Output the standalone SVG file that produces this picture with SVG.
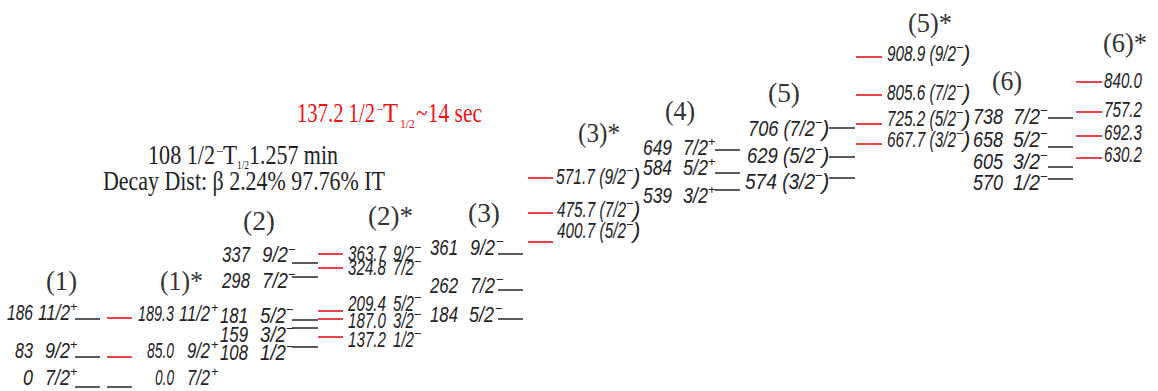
<svg xmlns="http://www.w3.org/2000/svg" width="1158" height="391" viewBox="0 0 1158 391">
<style>
.lv{font-family:"Liberation Sans Narrow","Liberation Sans",Arial,sans-serif;font-style:italic;font-size:22px;fill:#222}
.sp{font-family:"Liberation Sans",Arial,sans-serif;font-style:normal;font-size:13px;fill:#222}
.hd{font-family:"Liberation Serif","Times New Roman",serif;font-size:27px;fill:#333}
.tt{font-family:"Liberation Serif","Times New Roman",serif;font-size:28px;fill:#222}
.ts{font-family:"Liberation Serif","Times New Roman",serif;font-size:13px}
.red{fill:#f01010}
.bl{stroke:#333;stroke-width:1.6}
.rd{stroke:#e8141c;stroke-width:1.6}
.e{text-anchor:end}
</style>
<rect width="1158" height="391" fill="#fff"/>

<g id="titles">
<text class="tt red" y="122"><tspan x="297" textLength="78" lengthAdjust="spacingAndGlyphs">137.2 1/2</tspan><tspan class="ts" x="376" dy="-8">−</tspan><tspan x="383" dy="8" textLength="15" lengthAdjust="spacingAndGlyphs">T</tspan><tspan class="ts" x="400" dy="6" textLength="15" lengthAdjust="spacingAndGlyphs">1/2</tspan><tspan x="416" dy="-6" textLength="66" lengthAdjust="spacingAndGlyphs">~14 sec</tspan></text>
<text class="tt" y="164"><tspan x="148" textLength="67" lengthAdjust="spacingAndGlyphs">108 1/2</tspan><tspan class="ts" x="216" dy="-8">−</tspan><tspan x="223" dy="8" textLength="14" lengthAdjust="spacingAndGlyphs">T</tspan><tspan class="ts" x="237" dy="5" textLength="12" lengthAdjust="spacingAndGlyphs">1/2</tspan><tspan x="249" dy="-5" textLength="89" lengthAdjust="spacingAndGlyphs">1.257 min</tspan></text>
<text class="tt" x="103" y="190" textLength="282" lengthAdjust="spacingAndGlyphs">Decay Dist: β 2.24% 97.76% IT</text>
</g>

<g id="col1">
<text class="hd" x="46" y="290" textLength="31" lengthAdjust="spacingAndGlyphs">(1)</text>
<line class="bl" x1="75" y1="319" x2="100" y2="319"/>
<line class="bl" x1="75" y1="357" x2="100" y2="357"/>
<line class="bl" x1="75" y1="387" x2="100" y2="387"/>
<text class="lv" y="320"><tspan x="7" textLength="26" lengthAdjust="spacingAndGlyphs">186</tspan><tspan x="38" textLength="32" lengthAdjust="spacingAndGlyphs">11/2</tspan><tspan class="sp" x="70" dy="-9">+</tspan></text>
<text class="lv" y="358"><tspan x="15" textLength="18" lengthAdjust="spacingAndGlyphs">83</tspan><tspan x="45" textLength="25" lengthAdjust="spacingAndGlyphs">9/2</tspan><tspan class="sp" x="70" dy="-9">+</tspan></text>
<text class="lv" y="385"><tspan x="23" textLength="10" lengthAdjust="spacingAndGlyphs">0</tspan><tspan x="45" textLength="25" lengthAdjust="spacingAndGlyphs">7/2</tspan><tspan class="sp" x="70" dy="-9">+</tspan></text>
</g>

<g id="col1s">
<text class="hd" x="160" y="290" textLength="43" lengthAdjust="spacingAndGlyphs">(1)*</text>
<line class="rd" x1="107" y1="318" x2="132" y2="318"/>
<line class="rd" x1="107" y1="357" x2="132" y2="357"/>
<line class="bl" x1="107" y1="387" x2="132" y2="387"/>
<text class="lv" y="321"><tspan x="138" textLength="36" lengthAdjust="spacingAndGlyphs">189.3</tspan><tspan x="179" textLength="31" lengthAdjust="spacingAndGlyphs">11/2</tspan><tspan class="sp" x="211" dy="-9">+</tspan></text>
<text class="lv" y="358"><tspan x="147" textLength="27" lengthAdjust="spacingAndGlyphs">85.0</tspan><tspan x="187" textLength="23" lengthAdjust="spacingAndGlyphs">9/2</tspan><tspan class="sp" x="211" dy="-9">+</tspan></text>
<text class="lv" y="385"><tspan x="155" textLength="19" lengthAdjust="spacingAndGlyphs">0.0</tspan><tspan x="187" textLength="23" lengthAdjust="spacingAndGlyphs">7/2</tspan><tspan class="sp" x="211" dy="-9">+</tspan></text>
</g>

<g id="col2">
<text class="hd" x="243" y="230" textLength="32" lengthAdjust="spacingAndGlyphs">(2)</text>
<line class="bl" x1="292" y1="263" x2="318" y2="263"/>
<line class="bl" x1="292" y1="277" x2="318" y2="277"/>
<line class="bl" x1="292" y1="320" x2="318" y2="320"/>
<line class="bl" x1="292" y1="328" x2="318" y2="328"/>
<line class="bl" x1="292" y1="347" x2="318" y2="347"/>
<text class="lv" y="262"><tspan x="222" textLength="28" lengthAdjust="spacingAndGlyphs">337</tspan><tspan x="262" textLength="26" lengthAdjust="spacingAndGlyphs">9/2</tspan><tspan class="sp" x="288" dy="-8">−</tspan></text>
<text class="lv" y="288"><tspan x="222" textLength="28" lengthAdjust="spacingAndGlyphs">298</tspan><tspan x="262" textLength="26" lengthAdjust="spacingAndGlyphs">7/2</tspan><tspan class="sp" x="288" dy="-9">−</tspan></text>
<text class="lv" y="323"><tspan x="220" textLength="28" lengthAdjust="spacingAndGlyphs">181</tspan><tspan x="260" textLength="26" lengthAdjust="spacingAndGlyphs">5/2</tspan><tspan class="sp" x="286" dy="-9">−</tspan></text>
<text class="lv" y="342"><tspan x="220" textLength="28" lengthAdjust="spacingAndGlyphs">159</tspan><tspan x="260" textLength="26" lengthAdjust="spacingAndGlyphs">3/2</tspan><tspan class="sp" x="286" dy="-9">−</tspan></text>
<text class="lv" y="360"><tspan x="220" textLength="28" lengthAdjust="spacingAndGlyphs">108</tspan><tspan x="260" textLength="26" lengthAdjust="spacingAndGlyphs">1/2</tspan><tspan class="sp" x="286" dy="-9">−</tspan></text>
</g>

<g id="col2s">
<text class="hd" x="368" y="225" textLength="45" lengthAdjust="spacingAndGlyphs">(2)*</text>
<line class="rd" x1="318" y1="254" x2="343" y2="254"/>
<line class="rd" x1="318" y1="268" x2="343" y2="268"/>
<line class="rd" x1="318" y1="311" x2="343" y2="311"/>
<line class="rd" x1="318" y1="319" x2="343" y2="319"/>
<line class="rd" x1="318" y1="337" x2="343" y2="337"/>
<text class="lv" y="261"><tspan x="348" textLength="38" lengthAdjust="spacingAndGlyphs">363.7</tspan><tspan x="393" textLength="21" lengthAdjust="spacingAndGlyphs">9/2</tspan><tspan class="sp" x="414" dy="-9">−</tspan></text>
<text class="lv" y="275"><tspan x="348" textLength="38" lengthAdjust="spacingAndGlyphs">324.8</tspan><tspan x="393" textLength="21" lengthAdjust="spacingAndGlyphs">7/2</tspan><tspan class="sp" x="414" dy="-9">−</tspan></text>
<text class="lv" y="311"><tspan x="348" textLength="38" lengthAdjust="spacingAndGlyphs">209.4</tspan><tspan x="393" textLength="21" lengthAdjust="spacingAndGlyphs">5/2</tspan><tspan class="sp" x="414" dy="-9">−</tspan></text>
<text class="lv" y="328"><tspan x="348" textLength="38" lengthAdjust="spacingAndGlyphs">187.0</tspan><tspan x="393" textLength="21" lengthAdjust="spacingAndGlyphs">3/2</tspan><tspan class="sp" x="414" dy="-9">−</tspan></text>
<text class="lv" y="347"><tspan x="348" textLength="38" lengthAdjust="spacingAndGlyphs">137.2</tspan><tspan x="393" textLength="21" lengthAdjust="spacingAndGlyphs">1/2</tspan><tspan class="sp" x="414" dy="-9">−</tspan></text>
</g>

<g id="col3">
<text class="hd" x="468" y="222" textLength="32" lengthAdjust="spacingAndGlyphs">(3)</text>
<line class="bl" x1="498" y1="254" x2="523" y2="254"/>
<line class="bl" x1="498" y1="290" x2="523" y2="290"/>
<line class="bl" x1="498" y1="319" x2="523" y2="319"/>
<text class="lv" y="255"><tspan x="430" textLength="28" lengthAdjust="spacingAndGlyphs">361</tspan><tspan x="470" textLength="25" lengthAdjust="spacingAndGlyphs">9/2</tspan><tspan class="sp" x="496" dy="-9">−</tspan></text>
<text class="lv" y="293"><tspan x="430" textLength="28" lengthAdjust="spacingAndGlyphs">262</tspan><tspan x="470" textLength="25" lengthAdjust="spacingAndGlyphs">7/2</tspan><tspan class="sp" x="496" dy="-9">−</tspan></text>
<text class="lv" y="322"><tspan x="430" textLength="28" lengthAdjust="spacingAndGlyphs">184</tspan><tspan x="469" textLength="25" lengthAdjust="spacingAndGlyphs">5/2</tspan><tspan class="sp" x="495" dy="-9">−</tspan></text>
</g>

<g id="col3s">
<text class="hd" x="578" y="142" textLength="42" lengthAdjust="spacingAndGlyphs">(3)*</text>
<line class="rd" x1="528" y1="178" x2="553" y2="178"/>
<line class="rd" x1="528" y1="213" x2="553" y2="213"/>
<line class="rd" x1="528" y1="242" x2="553" y2="242"/>
<text class="lv" y="184"><tspan x="556" textLength="70" lengthAdjust="spacingAndGlyphs">571.7 (9/2</tspan><tspan class="sp" x="626" dy="-9">−</tspan><tspan x="633" dy="9">)</tspan></text>
<text class="lv" y="217"><tspan x="557" textLength="69" lengthAdjust="spacingAndGlyphs">475.7 (7/2</tspan><tspan class="sp" x="626" dy="-9">−</tspan><tspan x="633" dy="9">)</tspan></text>
<text class="lv" y="238"><tspan x="557" textLength="69" lengthAdjust="spacingAndGlyphs">400.7 (5/2</tspan><tspan class="sp" x="626" dy="-9">−</tspan><tspan x="633" dy="9">)</tspan></text>
</g>

<g id="col4">
<text class="hd" x="665" y="120" textLength="30" lengthAdjust="spacingAndGlyphs">(4)</text>
<line class="bl" x1="715" y1="150" x2="740" y2="150"/>
<line class="bl" x1="715" y1="173" x2="740" y2="173"/>
<line class="bl" x1="715" y1="190" x2="740" y2="190"/>
<text class="lv" y="155"><tspan x="643" textLength="29" lengthAdjust="spacingAndGlyphs">649</tspan><tspan x="683" textLength="25" lengthAdjust="spacingAndGlyphs">7/2</tspan><tspan class="sp" x="708" dy="-9">+</tspan></text>
<text class="lv" y="175"><tspan x="643" textLength="29" lengthAdjust="spacingAndGlyphs">584</tspan><tspan x="683" textLength="25" lengthAdjust="spacingAndGlyphs">5/2</tspan><tspan class="sp" x="708" dy="-9">+</tspan></text>
<text class="lv" y="203"><tspan x="643" textLength="29" lengthAdjust="spacingAndGlyphs">539</tspan><tspan x="683" textLength="25" lengthAdjust="spacingAndGlyphs">3/2</tspan><tspan class="sp" x="708" dy="-9">+</tspan></text>
</g>

<g id="col5">
<text class="hd" x="768" y="102" textLength="32" lengthAdjust="spacingAndGlyphs">(5)</text>
<line class="bl" x1="829" y1="128" x2="855" y2="128"/>
<line class="bl" x1="829" y1="157" x2="855" y2="157"/>
<line class="bl" x1="829" y1="178" x2="855" y2="178"/>
<text class="lv" y="136"><tspan x="748" textLength="67" lengthAdjust="spacingAndGlyphs">706 (7/2</tspan><tspan class="sp" x="815" dy="-9">−</tspan><tspan x="822" dy="9">)</tspan></text>
<text class="lv" y="163"><tspan x="747" textLength="68" lengthAdjust="spacingAndGlyphs">629 (5/2</tspan><tspan class="sp" x="815" dy="-9">−</tspan><tspan x="822" dy="9">)</tspan></text>
<text class="lv" y="189"><tspan x="745" textLength="70" lengthAdjust="spacingAndGlyphs">574 (3/2</tspan><tspan class="sp" x="815" dy="-9">−</tspan><tspan x="822" dy="9">)</tspan></text>
</g>

<g id="col5s">
<text class="hd" x="908" y="32" textLength="44" lengthAdjust="spacingAndGlyphs">(5)*</text>
<line class="rd" x1="856" y1="57" x2="882" y2="57"/>
<line class="rd" x1="856" y1="95" x2="882" y2="95"/>
<line class="rd" x1="856" y1="124" x2="882" y2="124"/>
<line class="rd" x1="856" y1="144" x2="882" y2="144"/>
<text class="lv" y="61"><tspan x="887" textLength="69" lengthAdjust="spacingAndGlyphs">908.9 (9/2</tspan><tspan class="sp" x="956" dy="-9">−</tspan><tspan x="963" dy="9">)</tspan></text>
<text class="lv" y="100"><tspan x="887" textLength="69" lengthAdjust="spacingAndGlyphs">805.6 (7/2</tspan><tspan class="sp" x="956" dy="-9">−</tspan><tspan x="963" dy="9">)</tspan></text>
<text class="lv" y="126"><tspan x="887" textLength="69" lengthAdjust="spacingAndGlyphs">725.2 (5/2</tspan><tspan class="sp" x="956" dy="-9">−</tspan><tspan x="963" dy="9">)</tspan></text>
<text class="lv" y="147"><tspan x="887" textLength="69" lengthAdjust="spacingAndGlyphs">667.7 (3/2</tspan><tspan class="sp" x="956" dy="-9">−</tspan><tspan x="963" dy="9">)</tspan></text>
</g>

<g id="col6">
<text class="hd" x="992" y="90" textLength="30" lengthAdjust="spacingAndGlyphs">(6)</text>
<line class="bl" x1="1048" y1="118" x2="1073" y2="118"/>
<line class="bl" x1="1048" y1="147" x2="1073" y2="147"/>
<line class="bl" x1="1048" y1="167" x2="1073" y2="167"/>
<line class="bl" x1="1048" y1="179" x2="1073" y2="179"/>
<text class="lv" y="124"><tspan x="973" textLength="30" lengthAdjust="spacingAndGlyphs">738</tspan><tspan x="1013" textLength="27" lengthAdjust="spacingAndGlyphs">7/2</tspan><tspan class="sp" x="1040" dy="-9">−</tspan></text>
<text class="lv" y="147"><tspan x="973" textLength="30" lengthAdjust="spacingAndGlyphs">658</tspan><tspan x="1013" textLength="27" lengthAdjust="spacingAndGlyphs">5/2</tspan><tspan class="sp" x="1040" dy="-9">−</tspan></text>
<text class="lv" y="169"><tspan x="973" textLength="30" lengthAdjust="spacingAndGlyphs">605</tspan><tspan x="1013" textLength="27" lengthAdjust="spacingAndGlyphs">3/2</tspan><tspan class="sp" x="1040" dy="-9">−</tspan></text>
<text class="lv" y="190"><tspan x="973" textLength="30" lengthAdjust="spacingAndGlyphs">570</tspan><tspan x="1013" textLength="27" lengthAdjust="spacingAndGlyphs">1/2</tspan><tspan class="sp" x="1040" dy="-9">−</tspan></text>
</g>

<g id="col6s">
<text class="hd" x="1103" y="52" textLength="44" lengthAdjust="spacingAndGlyphs">(6)*</text>
<line class="rd" x1="1076" y1="82" x2="1102" y2="82"/>
<line class="rd" x1="1076" y1="112" x2="1102" y2="112"/>
<line class="rd" x1="1076" y1="136" x2="1102" y2="136"/>
<line class="rd" x1="1076" y1="158" x2="1102" y2="158"/>
<text class="lv e" x="1142" y="88" textLength="38" lengthAdjust="spacingAndGlyphs">840.0</text>
<text class="lv e" x="1142" y="117" textLength="38" lengthAdjust="spacingAndGlyphs">757.2</text>
<text class="lv e" x="1142" y="140" textLength="38" lengthAdjust="spacingAndGlyphs">692.3</text>
<text class="lv e" x="1142" y="162" textLength="38" lengthAdjust="spacingAndGlyphs">630.2</text>
</g>
</svg>
